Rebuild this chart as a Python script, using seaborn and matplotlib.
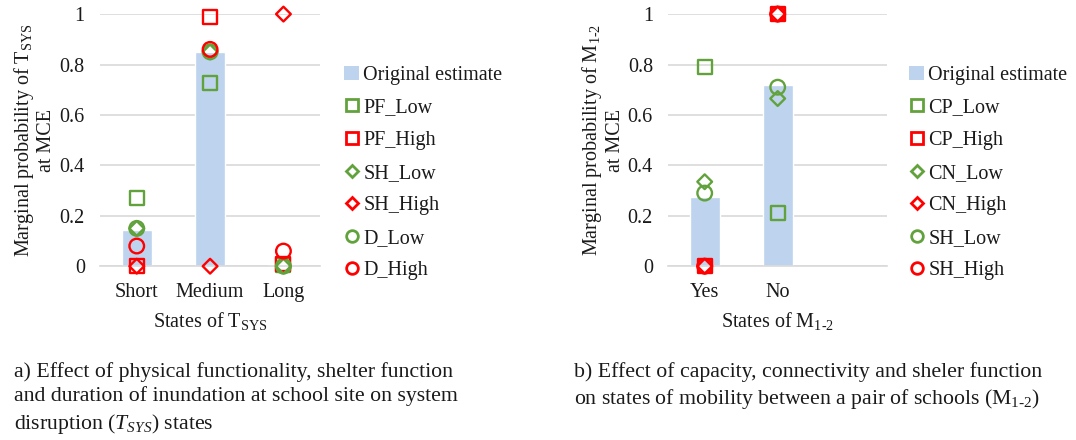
import numpy as np
import pandas as pd
import seaborn as sns
import matplotlib.pyplot as plt
from matplotlib.lines import Line2D
from matplotlib.patches import Patch

sns.set_theme(style="white")
plt.rcParams["font.family"] = ["Liberation Serif", "DejaVu Serif"]
plt.rcParams["mathtext.fontset"] = "custom"
plt.rcParams["mathtext.rm"] = "Liberation Serif"
plt.rcParams["mathtext.it"] = "Liberation Serif:italic"

# ---- data: system disruption T_SYS ----
t_states = ["Short", "Medium", "Long"]
t_original = [0.145, 0.85, 0.005]
t_pf_low = [0.27, 0.725, 0.005]
t_pf_high = [0.0, 0.99, 0.01]
t_sh_low = [0.15, 0.85, 0.0]
t_sh_high = [0.0, 0.0, 1.0]
t_d_low = [0.15, 0.85, 0.0]
t_d_high = [0.08, 0.86, 0.06]

# ---- data: mobility M_1-2 ----
m_states = ["Yes", "No"]
m_original = [0.275, 0.72]
m_cp_low = [0.79, 0.21]
m_cp_high = [0.0, 1.0]
m_cn_low = [0.335, 0.665]
m_cn_high = [0.0, 1.0]
m_sh_low = [0.29, 0.71]
m_sh_high = [0.0, 1.0]

GREEN = "#62A23C"
RED = "#FF0000"
BAR = "#BDD3EE"
GRID = "#D9D9D9"
TEXT = "#1a1a1a"
FS = 14.5

fig = plt.figure(figsize=(10.76, 4.4), dpi=100)
ax1 = fig.add_axes([0.093, 0.395, 0.2045, 0.573])
ax2 = fig.add_axes([0.621, 0.395, 0.2035, 0.573])


def draw_panel(ax, states, original, series, xlabel, ylabel, leg_x):
    df = pd.DataFrame({"state": states, "p": original})
    sns.barplot(data=df, x="state", y="p", order=states, color=BAR,
                width=0.41, saturation=1, ax=ax, zorder=2)
    handles = [Patch(facecolor=BAR, edgecolor="none", label="Original estimate")]
    for label, vals, marker, color, size in series:
        sdf = pd.DataFrame({"state": states, "p": vals})
        n_before = len(ax.collections)
        sns.stripplot(data=sdf, x="state", y="p", order=states, jitter=False,
                      marker=marker, s=size, color=color, linewidth=1.7,
                      edgecolor=color, ax=ax, zorder=3, clip_on=False)
        for coll in ax.collections[n_before:]:
            coll.set_facecolor("none")
            coll.set_edgecolor(color)
            coll.set_clip_on(False)
        handles.append(Line2D([], [], linestyle="none", marker=marker,
                              markersize=size * 0.8, markerfacecolor="none",
                              markeredgecolor=color, markeredgewidth=2.0,
                              label=label))
    ax.set_xlim(-0.5, 2.5)
    ax.set_ylim(0, 1)
    ax.set_yticks([0, 0.2, 0.4, 0.6, 0.8, 1.0])
    ax.set_yticklabels(["0", "0.2", "0.4", "0.6", "0.8", "1"])
    ax.yaxis.grid(True, color=GRID, linewidth=1.2, zorder=0)
    ax.set_axisbelow(True)
    for sp in ax.spines.values():
        sp.set_visible(False)
    ax.spines["bottom"].set_visible(True)
    ax.spines["bottom"].set_color(GRID)
    ax.spines["bottom"].set_linewidth(1.2)
    ax.tick_params(axis="both", length=0, labelsize=FS, colors=TEXT)
    ax.tick_params(axis="y", pad=11)
    ax.tick_params(axis="x", pad=12)
    ax.set_xlabel(xlabel, fontsize=FS, labelpad=6, color=TEXT)
    ax.set_ylabel(ylabel, fontsize=FS, color=TEXT, linespacing=1.1)
    ax.yaxis.set_label_coords(-0.198, 0.5)
    leg = ax.legend(handles=handles, loc="upper left",
                    bbox_to_anchor=(leg_x, 0.795), frameon=False,
                    fontsize=FS, handlelength=0.75, handletextpad=0.2,
                    labelspacing=0.67, borderaxespad=0, borderpad=0)
    for t in leg.get_texts():
        t.set_color(TEXT)


draw_panel(
    ax1, t_states, t_original,
    [("PF_Low", t_pf_low, "s", GREEN, 10),
     ("PF_High", t_pf_high, "s", RED, 10),
     ("SH_Low", t_sh_low, "D", GREEN, 7.5),
     ("SH_High", t_sh_high, "D", RED, 7.5),
     ("D_Low", t_d_low, "o", GREEN, 10.5),
     ("D_High", t_d_high, "o", RED, 10.5)],
    r"States of T$_{\mathregular{SYS}}$",
    "Marginal probability of T$_{\\mathregular{SYS}}$\nat MCE",
    1.11,
)

draw_panel(
    ax2, m_states, m_original,
    [("CP_Low", m_cp_low, "s", GREEN, 10),
     ("CP_High", m_cp_high, "s", RED, 10),
     ("CN_Low", m_cn_low, "D", GREEN, 7.5),
     ("CN_High", m_cn_high, "D", RED, 7.5),
     ("SH_Low", m_sh_low, "o", GREEN, 10.5),
     ("SH_High", m_sh_high, "o", RED, 10.5)],
    r"States of M$_{\mathregular{1\text{-}2}}$",
    "Marginal probability of M$_{\\mathregular{1\\text{-}2}}$\nat MCE",
    1.10,
)

CAP = 15.7
fig.text(0.013, 0.178,
         "a) Effect of physical functionality, shelter function\n"
         "and duration of inundation at school site on system\n"
         r"disruption ($T_{SYS}$) states",
         fontsize=CAP, va="top", ha="left", linespacing=1.33,
         color=TEXT)
fig.text(0.533, 0.178,
         "b) Effect of capacity, connectivity and sheler function\n"
         r"on states of mobility between a pair of schools (M$_{\mathit{1}\text{-}\mathit{2}}$)",
         fontsize=CAP, va="top", ha="left", linespacing=1.33,
         color=TEXT)

fig.savefig("out.png", dpi=100, facecolor="white")
